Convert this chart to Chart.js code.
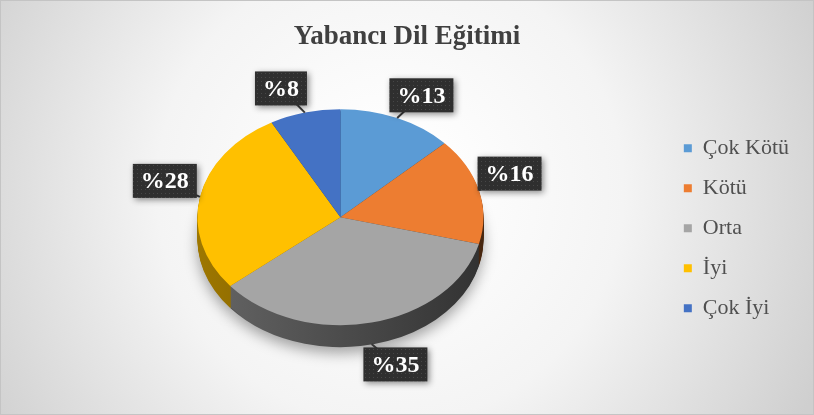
<!DOCTYPE html>
<html>
<head>
<meta charset="utf-8">
<script src="https://cdn.jsdelivr.net/npm/chart.js@4.4.1/dist/chart.umd.min.js"></script>
<style>
    html, body { margin: 0; padding: 0; background: #ffffff; }
    #wrap { width: 814px; height: 415px; position: relative; }
</style>
</head>
<body>
<div id="wrap"><canvas id="chart"></canvas></div>
<script>
// Chart data
const categories = ["Çok Kötü", "Kötü", "Orta", "İyi", "Çok İyi"];
const percentages = [13, 16, 35, 28, 8];
const sliceColors = ["#5b9bd5", "#ed7d31", "#a5a5a5", "#ffc000", "#4472c4"];
const chartTitle = "Yabancı Dil Eğitimi";

// 3D look: vertical squash of the disc and thickness of its side wall
const TILT = 108 / 143;
const DEPTH = 22;

function shade(hex, f) {
    const n = parseInt(hex.slice(1), 16);
    const r = Math.round(((n >> 16) & 255) * f);
    const g = Math.round(((n >> 8) & 255) * f);
    const b = Math.round((n & 255) * f);
    return `rgb(${r}, ${g}, ${b})`;
}

// small dotted texture used inside the label boxes
function makeLabelPattern(ctx) {
    const c = document.createElement("canvas");
    c.width = 4;
    c.height = 4;
    const p = c.getContext("2d");
    p.fillStyle = "#2f2f2f";
    p.fillRect(0, 0, 4, 4);
    p.fillStyle = "#474747";
    p.fillRect(1, 1, 1, 1);
    return ctx.createPattern(c, "repeat");
}

const backgroundPlugin = {
    id: "softBackground",
    beforeDraw(chart) {
        const { ctx, width, height } = chart;
        ctx.save();
        const g = ctx.createRadialGradient(390, 190, 40, 390, 190, 470);
        g.addColorStop(0, "#ffffff");
        g.addColorStop(0.45, "#f4f4f4");
        g.addColorStop(1, "#cfcfcf");
        ctx.fillStyle = g;
        ctx.fillRect(0, 0, width, height);
        ctx.strokeStyle = "#c4c4c4";
        ctx.lineWidth = 1;
        ctx.strokeRect(0.5, 0.5, width - 1, height - 1);
        ctx.restore();
    },
};

const tiltPlugin = {
    id: "tilt3d",
    beforeDatasetsDraw(chart) {
        const ctx = chart.ctx;
        const arcs = chart.getDatasetMeta(0).data;
        if (!arcs.length) return;
        const cx = arcs[0].x;
        const cy = arcs[0].y;
        const r = arcs[0].outerRadius;
        const topY = cy - DEPTH / 2;

        // side wall, stacked from the bottom up
        for (let d = DEPTH; d >= 1; d--) {
            ctx.save();
            ctx.translate(cx, topY + d);
            ctx.scale(1, TILT);
            ctx.translate(-cx, -cy);
            if (d === DEPTH) {
                ctx.shadowColor = "rgba(0, 0, 0, 0.35)";
                ctx.shadowBlur = 14;
                ctx.shadowOffsetY = 6;
            }
            arcs.forEach((arc, i) => {
                const p = arc.getProps(["x", "y", "startAngle", "endAngle", "outerRadius"], true);
                const grad = ctx.createLinearGradient(cx - r, 0, cx + r, 0);
                grad.addColorStop(0, shade(sliceColors[i], 0.62));
                grad.addColorStop(1, shade(sliceColors[i], 0.3));
                ctx.beginPath();
                ctx.moveTo(p.x, p.y);
                ctx.arc(p.x, p.y, p.outerRadius, p.startAngle, p.endAngle);
                ctx.closePath();
                ctx.fillStyle = grad;
                ctx.fill();
            });
            ctx.restore();
        }

        // top face: squash the real arcs drawn by Chart.js
        ctx.save();
        ctx.translate(cx, topY);
        ctx.scale(1, TILT);
        ctx.translate(-cx, -cy);
    },
    afterDatasetsDraw(chart, args, opts) {
        const ctx = chart.ctx;
        const arcs = chart.getDatasetMeta(0).data;
        if (!arcs.length) return;
        ctx.restore();

        const cy = arcs[0].y;
        const topY = cy - DEPTH / 2;
        const pattern = makeLabelPattern(ctx);
        const nudges = opts.labelNudge || [];

        ctx.save();
        ctx.font = "bold 24px 'Liberation Serif', 'Times New Roman', serif";
        ctx.textAlign = "center";
        ctx.textBaseline = "middle";
        arcs.forEach((arc, i) => {
            const p = arc.getProps(["x", "y", "startAngle", "endAngle", "outerRadius"], true);
            const mid = (p.startAngle + p.endAngle) / 2;
            const rx = p.outerRadius;
            const ry = p.outerRadius * TILT;
            const c = Math.cos(mid);
            const s = Math.sin(mid);
            const front = Math.max(0, s) * DEPTH;
            const nudge = nudges[i] || [0, 0];
            const ax = p.x + rx * c;
            const ay = topY + ry * s + front;
            const lx = p.x + rx * 1.25 * c + nudge[0];
            const ly = topY + ry * 1.25 * s + front + nudge[1];

            const text = "%" + percentages[i];
            const w = ctx.measureText(text).width + 16;
            const h = 34;

            // leader
            ctx.strokeStyle = "#3a3a3a";
            ctx.lineWidth = 2;
            ctx.beginPath();
            ctx.moveTo(ax, ay);
            ctx.lineTo(lx, ly);
            ctx.stroke();

            // box
            ctx.save();
            ctx.shadowColor = "rgba(0, 0, 0, 0.45)";
            ctx.shadowBlur = 6;
            ctx.shadowOffsetX = 2;
            ctx.shadowOffsetY = 2;
            ctx.fillStyle = pattern;
            ctx.fillRect(lx - w / 2, ly - h / 2, w, h);
            ctx.restore();

            ctx.fillStyle = "#ffffff";
            ctx.fillText(text, lx, ly + 1);
        });
        ctx.restore();
    },
};

const ctx = document.getElementById("chart");

window.pieChart = new Chart(ctx, {
    type: "pie",
    data: {
        labels: categories,
        datasets: [
            {
                data: percentages,
                backgroundColor: sliceColors,
                borderWidth: 0,
                radius: 143,
            },
        ],
    },
    options: {
        responsive: true,
        maintainAspectRatio: false,
        animation: false,
        events: [],
        layout: {
            padding: { left: 15, right: 15, top: 12, bottom: 19 },
        },
        plugins: {
            title: {
                display: true,
                text: chartTitle,
                color: "#404040",
                font: {
                    family: "'Liberation Serif', 'Times New Roman', serif",
                    size: 27,
                    weight: "bold",
                    lineHeight: 1.2,
                },
                padding: { top: 9, bottom: 7 },
            },
            legend: {
                position: "right",
                fullSize: false,
                labels: {
                    boxWidth: 8,
                    boxHeight: 8,
                    padding: 18,
                    color: "#505050",
                    font: {
                        family: "'Liberation Serif', 'Times New Roman', serif",
                        size: 22,
                        lineHeight: 1,
                    },
                },
            },
            tooltip: { enabled: false },
            tilt3d: {
                // Excel's "best fit" placement of the callouts
                labelNudge: [[10, 2], [-4, -10], [16, -6], [0, -11], [-15, 2]],
            },
        },
    },
    plugins: [backgroundPlugin, tiltPlugin],
});
</script>
</body>
</html>
